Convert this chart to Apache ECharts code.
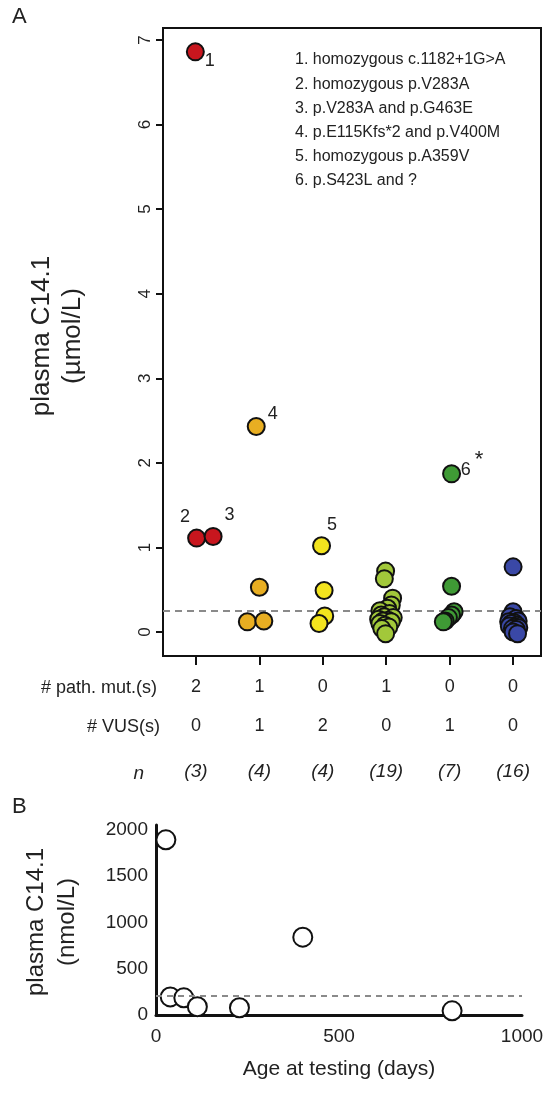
<!DOCTYPE html>
<html><head><meta charset="utf-8">
<script src="https://cdn.jsdelivr.net/npm/echarts@6/dist/echarts.min.js"></script>
<style>html,body{margin:0;padding:0;background:#fff}#c{width:547px;height:1094px}</style>
</head><body><div id="c"></div>
<script>
// ---------- Panel A data ----------
const groupNames = ['g1','g2','g3','g4','g5','g6'];
const groupColors = ['#c8161e','#e8ae22','#f3e41e','#a2c83a','#3f9a35','#3a48a6'];
const pathMut = ['2','1','0','1','0','0'];
const vusCount = ['0','1','2','0','1','0'];
const nLabels = ['(3)','(4)','(4)','(19)','(7)','(16)'];
const yTicksA = [0,1,2,3,4,5,6,7];
const catTicks = [1,2,3,4,5,6];
const refLineA = 0.25;
// [x (category + jitter), value µmol/L]
const g1 = [[0.99,6.86],[1.01,1.11],[1.27,1.13]];
const g2 = [[1.95,2.43],[2.00,0.53],[1.81,0.12],[2.07,0.13]];
const g3 = [[2.98,1.02],[3.02,0.49],[3.03,0.19],[2.94,0.10]];
const g4 = [[3.99,0.72],[3.97,0.63],[4.10,0.40],[4.08,0.32],[4.02,0.28],[3.90,0.25],[4.05,0.22],[3.92,0.20],[3.97,0.18],[4.11,0.17],[3.88,0.15],[4.03,0.14],[3.95,0.13],[4.08,0.12],[3.90,0.10],[3.98,0.08],[4.04,0.06],[3.93,0.04],[3.99,-0.02]];
const g5 = [[5.03,1.87],[5.03,0.54],[5.07,0.24],[5.03,0.20],[4.98,0.17],[4.93,0.13],[4.90,0.12]];
const g6 = [[6.00,0.77],[6.00,0.24],[5.95,0.18],[6.05,0.16],[6.08,0.13],[5.93,0.12],[6.02,0.11],[5.97,0.10],[6.06,0.08],[5.94,0.07],[6.03,0.06],[6.09,0.05],[5.99,0.04],[6.05,0.03],[6.00,0.00],[6.07,-0.02]];
const groups = [g1,g2,g3,g4,g5,g6];
// point annotations: [group index, point index, text]
const pointLabels = [[0,0,'1'],[0,1,'2'],[0,2,'3'],[1,0,'4'],[2,0,'5'],[4,0,'6*']];
const legendLines = ['1. homozygous c.1182+1G>A','2. homozygous p.V283A','3. p.V283A and p.G463E','4. p.E115Kfs*2 and p.V400M','5. homozygous p.A359V','6. p.S423L and ?'];

// ---------- Panel B data ----------
const ageDays = [27, 39, 76, 113, 228, 401, 809];
const c141nmol = [1890, 195, 185, 90, 78, 840, 45];
const refLineB = 210;
const yTicksB = [0,500,1000,1500,2000];

const FONT = "'Liberation Sans Narrow','Liberation Sans',Arial,sans-serif";
const TXT = '#222';

const labelPos = {
  '1':[24,19], '2':[-2,-12], '3':[26,-12], '4':[26,-3], '5':[20,-11], '6*':[30,0]
};

const seriesA = groups.map((g,gi)=>({
  type:'scatter', xAxisIndex:0, yAxisIndex:0, name:groupNames[gi],
  symbol:'circle', symbolSize:17,
  itemStyle:{color:groupColors[gi], borderColor:'#111', borderWidth:2, opacity:1},
  data: g.map((p,pi)=>{
    const lab = pointLabels.find(l=>l[0]===gi && l[1]===pi);
    const item = {value:p};
    if(lab){
      item.label = {show:true, formatter: lab[2]==='6*' ? '{a|6}{b|*}' : lab[2],
        position: labelPos[lab[2]], align:'center', verticalAlign:'middle',
        fontFamily:FONT, fontSize:18, color:TXT,
        rich:{a:{fontFamily:FONT,fontSize:18,color:TXT,lineHeight:30,verticalAlign:'bottom'},
              b:{fontFamily:FONT,fontSize:22,color:TXT,lineHeight:30,verticalAlign:'top',padding:[0,0,0,4]}}};
    }
    return item;
  }),
  z: 3
}));
seriesA[0].markLine = {silent:true, symbol:'none', label:{show:false},
  lineStyle:{type:[7,5], color:'#8a8a8a', width:2}, data:[{yAxis:refLineA}], z:1};

const seriesB = {
  type:'scatter', xAxisIndex:3, yAxisIndex:1, symbol:'emptyCircle', symbolSize:19,
  itemStyle:{color:'#111', borderColor:'#111', borderWidth:2.5, opacity:1},
  data: ageDays.map((d,i)=>[d,c141nmol[i]]),
  markLine:{silent:true, symbol:'none', label:{show:false},
    lineStyle:{type:[6,5], color:'#8a8a8a', width:2}, data:[{yAxis:refLineB}]}
};

const rowAxis = (arr, margin, extra) => Object.assign({
  type:'value', gridIndex:0, position:'bottom', min:0.48, max:6.44,
  axisLine:{show:false, onZero:false}, axisTick:{show:false}, splitLine:{show:false},
  axisLabel:{show:true, customValues:catTicks, margin:margin, fontFamily:FONT, fontSize:18, color:TXT,
    formatter:v=>arr[Math.round(v)-1]}
}, extra||{});

const option = {
  animation:false,
  backgroundColor:'#fff',
  grid:[
    {left:163, top:28, width:378, height:628, show:true, borderColor:'#111', borderWidth:2, backgroundColor:'transparent'},
    {left:156, top:825, width:366, height:190, show:false}
  ],
  xAxis:[
    {type:'value', gridIndex:0, position:'bottom', min:0.48, max:6.44,
     axisLine:{show:false, onZero:false}, splitLine:{show:false},
     axisTick:{show:true, customValues:catTicks, length:9, lineStyle:{color:'#111', width:2}},
     axisLabel:{show:true, customValues:catTicks, margin:22, fontFamily:FONT, fontSize:18, color:TXT,
       formatter:v=>pathMut[Math.round(v)-1]}},
    rowAxis(vusCount, 61),
    rowAxis(nLabels, 106, {axisLabel:{show:true, customValues:catTicks, margin:106, fontFamily:FONT, fontSize:19, fontStyle:'italic', color:TXT,
       formatter:v=>nLabels[Math.round(v)-1]}}),
    {type:'value', gridIndex:1, min:0, max:1000, interval:500,
     axisLine:{show:true, onZero:false, lineStyle:{color:'#111', width:3}},
     axisTick:{show:false}, splitLine:{show:false},
     axisLabel:{margin:12, fontFamily:FONT, fontSize:19, color:TXT, formatter:v=>String(v)},
     name:'Age at testing (days)', nameLocation:'middle', nameGap:44,
     nameTextStyle:{fontFamily:FONT, fontSize:21, color:TXT}}
  ],
  yAxis:[
    {type:'value', gridIndex:0, min:-0.284, max:7.142,
     axisLine:{show:false, onZero:false}, splitLine:{show:false},
     axisTick:{show:true, customValues:yTicksA, length:7, lineStyle:{color:'#111', width:2}},
     axisLabel:{show:true, customValues:yTicksA, rotate:90, margin:9, fontFamily:FONT, fontSize:17, color:TXT}},
    {type:'value', gridIndex:1, min:0, max:2050,
     axisLine:{show:true, onZero:false, lineStyle:{color:'#111', width:3}},
     axisTick:{show:false}, splitLine:{show:false},
     axisLabel:{show:true, customValues:yTicksB, margin:8, fontFamily:FONT, fontSize:19, color:TXT, formatter:v=>String(v)}}
  ],
  series: seriesA.concat([seriesB]),
  graphic:[
    {type:'text', left:12, top:6, style:{text:'A', font:'22px '+FONT, fill:TXT}},
    {type:'text', left:12, top:796, style:{text:'B', font:'22px '+FONT, fill:TXT}},
    {type:'text', x:42, y:336, rotation:Math.PI/2, style:{text:'plasma C14.1', x:0, y:0, align:'center', verticalAlign:'middle', font:'26px '+FONT, fill:TXT}},
    {type:'text', x:73, y:336, rotation:Math.PI/2, style:{text:'(µmol/L)', x:0, y:0, align:'center', verticalAlign:'middle', font:'26px '+FONT, fill:TXT}},
    {type:'text', x:36, y:922, rotation:Math.PI/2, style:{text:'plasma C14.1', x:0, y:0, align:'center', verticalAlign:'middle', font:'24px '+FONT, fill:TXT}},
    {type:'text', x:67, y:922, rotation:Math.PI/2, style:{text:'(nmol/L)', x:0, y:0, align:'center', verticalAlign:'middle', font:'24px '+FONT, fill:TXT}},
    {type:'text', x:157, y:688, style:{text:'# path. mut.(s)', x:0, y:0, align:'right', verticalAlign:'middle', font:'18px '+FONT, fill:TXT}},
    {type:'text', x:160, y:727, style:{text:'# VUS(s)', x:0, y:0, align:'right', verticalAlign:'middle', font:'18px '+FONT, fill:TXT}},
    {type:'text', x:144, y:774, style:{text:'n', x:0, y:0, align:'right', verticalAlign:'middle', font:'italic 19px '+FONT, fill:TXT}}
  ].concat(legendLines.map((t,i)=>({type:'text', x:295, y:60+i*24.2,
     style:{text:t, x:0, y:0, align:'left', verticalAlign:'middle', font:'16px '+FONT, fill:TXT}})))
};
const chart = echarts.init(document.getElementById('c'), null, {renderer:'canvas'});
chart.setOption(option);
</script></body></html>
